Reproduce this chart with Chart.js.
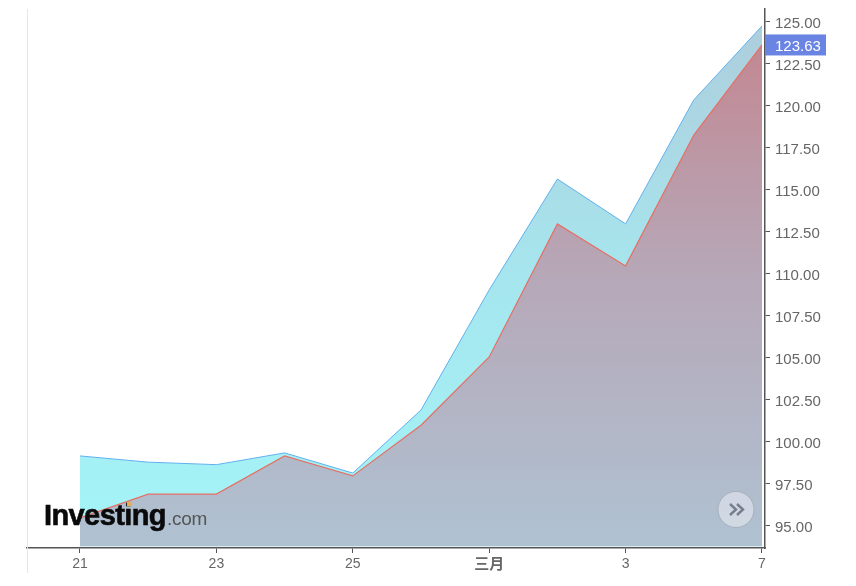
<!DOCTYPE html>
<html>
<head>
<meta charset="utf-8">
<style>
  html, body { margin: 0; padding: 0; background: #fff; }
  #wrap { position: relative; width: 856px; height: 586px; }
</style>
<script src="https://cdn.jsdelivr.net/npm/chart.js@4"></script>
</head>
<body>
<div id="wrap"><canvas id="chart" width="856" height="586"></canvas></div>
<script>
const tickLabels = ['21', '', '23', '', '25', '', '三月', '', '3', '', '7'];
const upperValues = [99.17, 98.8, 98.65, 99.35, 98.15, 101.9, 109.05, 115.65, 112.98, 120.36, 124.76];
const lowerValues = [95.48, 96.9, 96.9, 99.17, 97.98, 101.0, 105.06, 112.98, 110.48, 118.27, 123.63];
const lastPrice = 123.63;
const yTickStep = 2.5;

const axisColor = '#555';
const textColor = '#666';

function points(values) {
    return values.map((v, i) => ({ x: i, y: v }));
}

function gradient(context, stops) {
    const chart = context.chart;
    if (!chart.chartArea) return 'transparent';
    const g = chart.ctx.createLinearGradient(0, chart.chartArea.top, 0, chart.chartArea.bottom);
    stops.forEach(s => g.addColorStop(s[0], s[1]));
    return g;
}

const overlayPlugin = {
    id: 'overlay',
    beforeDraw(chart) {
        // nudge tick labels, the axis has no option for this
        chart.scales.y.getLabelItems().forEach(item => { item.options.translation[1] += 1.5; });
        chart.scales.x.getLabelItems().forEach(item => {
            if (item.label === '三月') item.options.translation[1] -= 2;
        });
    },
    afterDraw(chart) {
        const ctx = chart.ctx;
        const area = chart.chartArea;
        const yScale = chart.scales.y;

        // light left border
        ctx.save();
        ctx.strokeStyle = '#e6e6e6';
        ctx.lineWidth = 1;
        ctx.beginPath();
        ctx.moveTo(area.left + 0.5, area.top);
        ctx.lineTo(area.left + 0.5, 573);
        ctx.stroke();

        // last price tag
        const py = yScale.getPixelForValue(lastPrice);
        ctx.fillStyle = '#6a84e3';
        ctx.fillRect(area.right, py - 10.5, 61, 21);
        ctx.fillStyle = '#fff';
        ctx.font = '15px "Liberation Sans"';
        ctx.textAlign = 'left';
        ctx.textBaseline = 'middle';
        ctx.fillText(lastPrice.toFixed(2), 775, py + 1.5);

        // logo
        ctx.filter = 'blur(0.4px)';
        ctx.fillStyle = '#0a0a0a';
        ctx.strokeStyle = '#0a0a0a';
        ctx.lineWidth = 0.6;
        ctx.textBaseline = 'alphabetic';
        ctx.font = 'bold 29px "Liberation Sans"';
        ctx.letterSpacing = '-0.6px';
        ctx.fillText('Investing', 44, 525);
        ctx.strokeText('Investing', 44, 525);
        ctx.fillStyle = '#555';
        ctx.font = '19px "Liberation Sans"';
        ctx.letterSpacing = '-0.3px';
        ctx.fillText('.com', 167, 525);
        ctx.letterSpacing = '0px';
        ctx.filter = 'none';
        ctx.fillStyle = '#e8ad55';
        ctx.fillRect(127, 502, 5, 4);

        // scroll button
        ctx.beginPath();
        ctx.arc(736, 509.5, 18, 0, Math.PI * 2);
        ctx.fillStyle = 'rgba(214,220,229,0.85)';
        ctx.fill();
        ctx.strokeStyle = 'rgba(160,170,182,0.8)';
        ctx.lineWidth = 1;
        ctx.stroke();
        ctx.strokeStyle = '#757e8c';
        ctx.lineWidth = 2.4;
        [730, 737].forEach(x => {
            ctx.beginPath();
            ctx.moveTo(x, 504);
            ctx.lineTo(x + 6, 509.5);
            ctx.lineTo(x, 515);
            ctx.stroke();
        });
        ctx.restore();
    }
};

new Chart(document.getElementById('chart'), {
    type: 'line',
    data: {
        datasets: [{
            data: points(lowerValues),
            borderColor: '#e66f65',
            borderWidth: 1.2,
            pointRadius: 0,
            tension: 0,
            fill: { value: 93.8 },
            backgroundColor: c => gradient(c, [[0, '#c4838d'], [0.5, '#b6a8b8'], [1, '#afc2d2']])
        }, {
            data: points(upperValues),
            borderColor: '#5fb0ee',
            borderWidth: 1,
            pointRadius: 0,
            tension: 0,
            fill: { value: 93.8 },
            backgroundColor: c => gradient(c, [[0, '#aeccdb'], [0.5, '#a6e6ee'], [1, '#a3f5f8']])
        }]
    },
    options: {
        responsive: false,
        animation: false,
        layout: { padding: { left: 27, top: 9, right: 0, bottom: 0 } },
        plugins: { legend: { display: false }, tooltip: { enabled: false } },
        scales: {
            x: {
                type: 'linear',
                min: -0.777,
                max: 10.044,
                afterBuildTicks: axis => {
                    axis.ticks = tickLabels
                        .map((t, i) => ({ value: i, label: t }))
                        .filter(t => t.label !== '');
                },
                afterFit: axis => { axis.height = 38; },
                grid: { drawOnChartArea: false, tickLength: 5, tickColor: axisColor, color: axisColor },
                border: { color: axisColor, width: 1.5 },
                ticks: {
                    autoSkip: false,
                    maxRotation: 0,
                    padding: 3,
                    color: textColor,
                    font: ctx => {
                        const isMonth = ctx.tick && tickLabels[ctx.tick.value] === '三月';
                        return isMonth
                            ? { family: '"Noto Sans CJK SC"', size: 15, weight: 'bold' }
                            : { family: '"Liberation Sans"', size: 14 };
                    },
                    callback: value => tickLabels[value]
                }
            },
            y: {
                position: 'right',
                min: 93.69,
                max: 125.77,
                afterBuildTicks: axis => {
                    const ticks = [];
                    for (let n = 0; n <= 12; n++) ticks.push({ value: 95 + n * yTickStep });
                    axis.ticks = ticks;
                },
                afterFit: axis => {
                    axis.width = 91;
                    axis.paddingTop = 0;
                    axis.paddingBottom = 0;
                },
                grid: { drawOnChartArea: false, tickLength: 5, tickColor: axisColor, color: axisColor },
                border: { color: axisColor, width: 1.5 },
                ticks: {
                    padding: 5,
                    color: textColor,
                    font: { family: '"Liberation Sans"', size: 15 },
                    callback: value => Number(value).toFixed(2)
                }
            }
        }
    },
    plugins: [overlayPlugin]
});
</script>
</body>
</html>
